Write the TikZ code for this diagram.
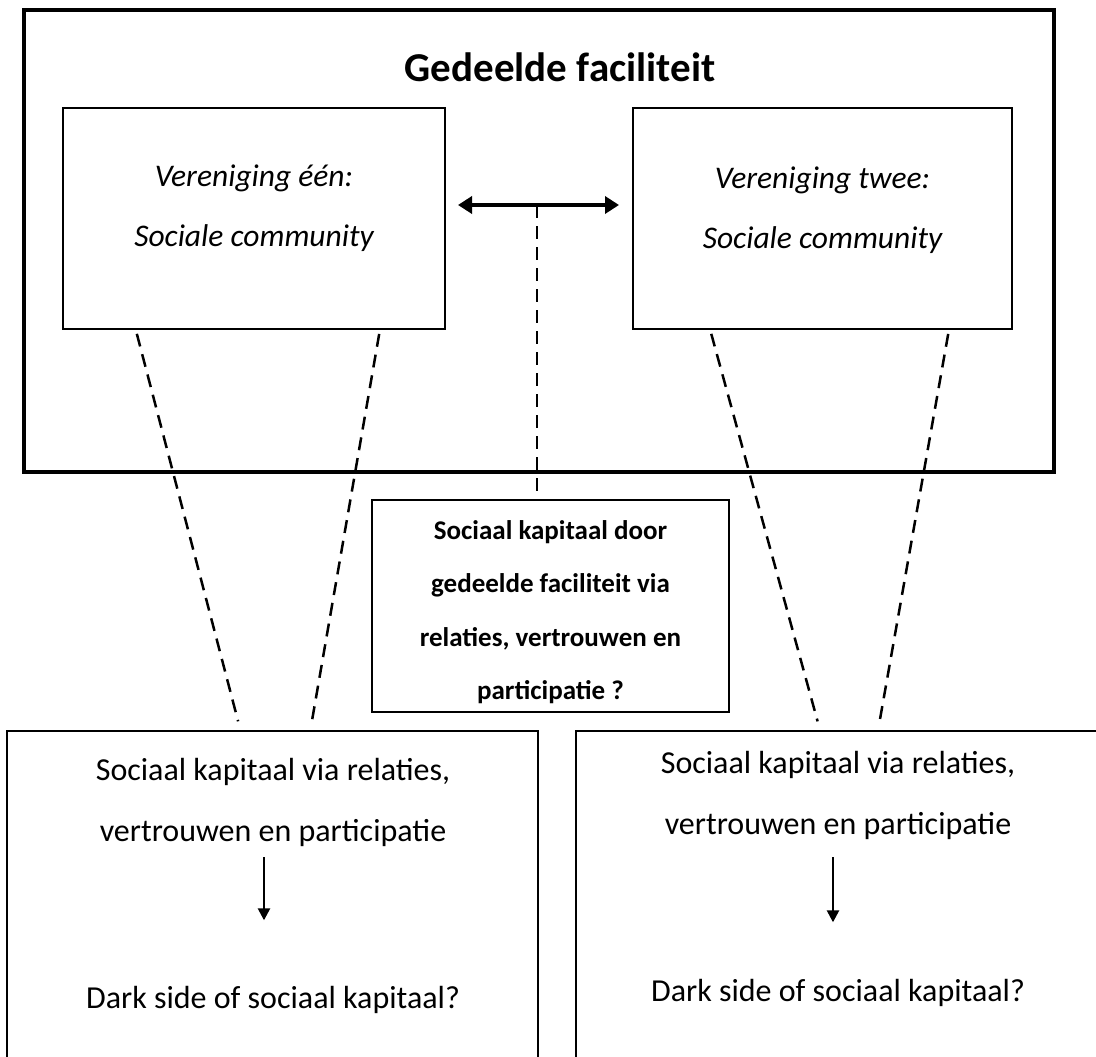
\documentclass[tikz,border=0pt]{standalone}
\usepackage{fontspec}
\setmainfont{Carlito}
\usetikzlibrary{arrows.meta,calc}

\begin{document}
\begin{tikzpicture}[x=1pt,y=-1pt,outer sep=0pt,
    frame/.style={draw,line width=4pt,minimum width=1030pt,minimum height=462pt},
    clubbox/.style={draw,line width=2.5pt,minimum height=221pt},
    capbox/.style={draw,line width=1.5pt},
    titletxt/.style={inner sep=0pt,font=\fontsize{41}{49}\selectfont\bfseries},
    clubtxt/.style={align=center,inner sep=0pt,font=\fontsize{31.5}{60}\selectfont\itshape},
    kaptxt/.style={align=center,inner sep=0pt,font=\fontsize{27}{53.5}\selectfont\bfseries},
    captxt/.style={align=center,inner sep=0pt,font=\fontsize{32}{61}\selectfont},
    biarrow/.style={line width=4pt,{Triangle[length=14pt,width=17pt]}-{Triangle[length=14pt,width=17pt]}},
    flow/.style={line width=2.5pt,-{Triangle[length=12pt,width=12pt]}},
    dashline/.style={line width=2.5pt,dash pattern=on 13pt off 8pt}]
  \useasboundingbox (0,0) rectangle (1096,1057);
  \clip (0,0) rectangle (1096,1057);

  % shared facility with the two clubs
  \node[frame] (facility) at (539,241) {};
  \node[titletxt] (title) at (560,67) {Gedeelde faciliteit};
  \node[clubbox,minimum width=382pt] (vone) at (254,218.5) {};
  \node[clubbox,minimum width=379pt] (vtwo) at (822.5,218.5) {};
  \node[clubtxt] (vonetxt) at ([yshift=10pt]vone.center) {Vereniging één:\\Sociale community};
  \node[clubtxt] (vtwotxt) at ([yshift=8pt]vtwo.center) {Vereniging twee:\\Sociale community};
  \draw[biarrow,shorten <=13pt,shorten >=14pt] ([yshift=13.5pt]vone.east) -- ([yshift=13.5pt]vtwo.west);
  \coordinate (link) at (537,205);

  % social capital boxes
  \node[capbox,minimum width=357pt,minimum height=212pt] (kapmid) at (550.5,606) {};
  \node[kaptxt] (kapmidtxt) at ([yshift=-6pt]kapmid.center) {Sociaal kapitaal door\\gedeelde faciliteit via\\relaties, vertrouwen en\\participatie ?};
  \node[capbox,minimum width=531pt,minimum height=349pt] (botL) at (272.5,905.5) {};
  \node[capbox,minimum width=544pt,minimum height=349pt] (botR) at (848,905.5) {};
  \node[captxt] (relL) at (273,802) {Sociaal kapitaal via relaties,\\vertrouwen en participatie};
  \node[captxt] (darkL) at (273,1000) {Dark side of sociaal kapitaal?};
  \node[captxt] (relR) at (838,795) {Sociaal kapitaal via relaties,\\vertrouwen en participatie};
  \node[captxt] (darkR) at (838,993) {Dark side of sociaal kapitaal?};
  \draw[flow,shorten <=11pt,shorten >=66pt] ([xshift=-9pt]relL.south) -- ([xshift=-9pt]relL.south |- darkL.north);
  \draw[flow,shorten <=18pt,shorten >=57pt] ([xshift=-5pt]relR.south) -- ([xshift=-5pt]relR.south |- darkR.north);

  % dashed links
  \draw[dashline] (link) -- (link |- kapmid.north);
  \draw[dashline,shorten <=5pt,shorten >=10pt] ($(vone.south west)!.19!(vone.south east)$) -- ($(botL.north west)!.44!(botL.north east)$);
  \draw[dashline,shorten <=5pt,shorten >=6pt] ($(vone.south west)!.83!(vone.south east)$) -- ($(botL.north west)!.571!(botL.north east)$);
  \draw[dashline,shorten <=5pt,shorten >=10pt] ($(vtwo.south west)!.203!(vtwo.south east)$) -- ($(botR.north west)!.449!(botR.north east)$);
  \draw[dashline,shorten <=5pt,shorten >=6pt] ($(vtwo.south west)!.834!(vtwo.south east)$) -- ($(botR.north west)!.555!(botR.north east)$);
\end{tikzpicture}
\end{document}
